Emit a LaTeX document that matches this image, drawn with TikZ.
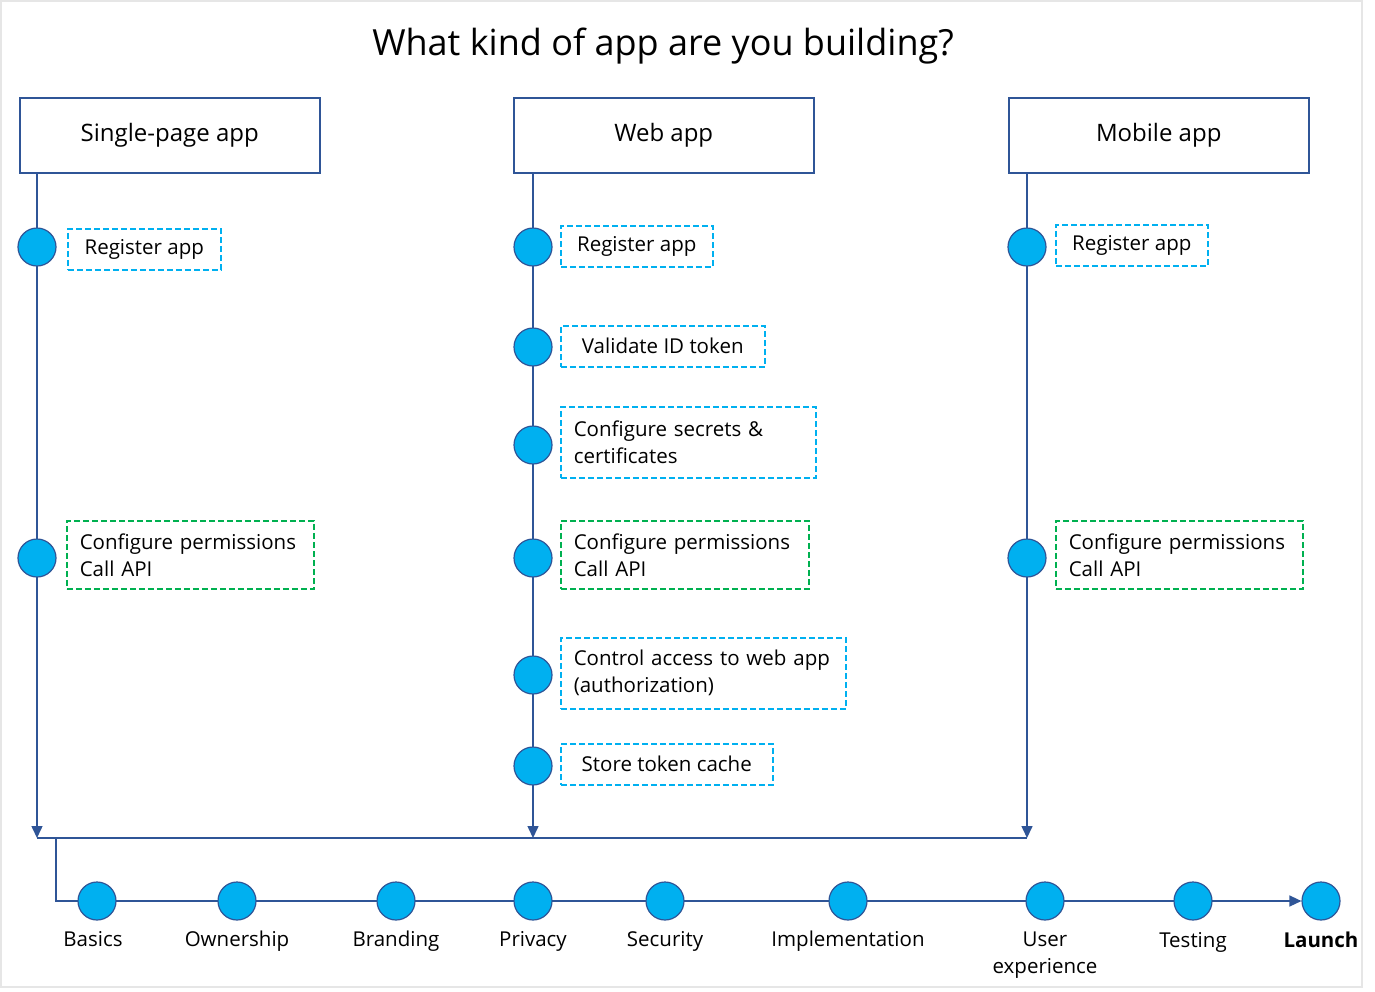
\documentclass[tikz,border=0pt]{standalone}
\usepackage{fontspec}
\setmainfont{Open Sans}
\usetikzlibrary{arrows.meta,positioning,backgrounds}

\definecolor{navyline}{HTML}{2F5597}
\definecolor{dotcyan}{HTML}{00B0F0}
\definecolor{permgreen}{HTML}{00B050}
\definecolor{framegray}{HTML}{E6E6E6}

\newcommand{\boxfont}{\fontsize{20.5}{27}\selectfont}

\tikzset{
  apphead/.style={draw=navyline, line width=1.5pt, minimum width=300pt, minimum height=75pt, anchor=north west, inner sep=0pt, font=\fontsize{24}{28}\selectfont},
  stepdot/.style={circle, fill=dotcyan, draw=navyline, line width=1.2pt, minimum size=38pt, inner sep=0pt},
  notebox/.style={draw=dotcyan, line width=1.5pt, dash pattern=on 6pt off 3pt, minimum height=41pt, anchor=north west, inner xsep=13pt, inner ysep=0pt, font=\boxfont},
  twobox/.style={notebox, minimum height=71pt, text width=#1, align=left},
  permbox/.style={twobox=#1, draw=permgreen, minimum height=68pt},
  flow/.style={draw=navyline, line width=1.5pt},
  flowarrow/.style={flow, -{Triangle[length=12pt,width=11pt]}},
  stagelabel/.style={font=\boxfont, align=center, anchor=base, inner sep=0pt}
}

\begin{document}
\begin{tikzpicture}[x=1pt, y=-1pt]
\useasboundingbox (0,0) rectangle (1375,991);
\draw [framegray, line width=2pt] (1,1) rectangle (1362,987);

% Title
\node (title) at (663,46) {\fontsize{36}{40}\selectfont What kind of app are you building?};

% App types
\node [apphead] (spahead) at (19,97) {Single-page app};
\node [apphead] (webhead) at (513,97) {Web app};
\node [apphead] (mobhead) at (1008,97) {Mobile app};

\coordinate (spatop) at ([xshift=18pt]spahead.south west);
\coordinate (webtop) at ([xshift=20pt]webhead.south west);
\coordinate (mobtop) at ([xshift=19pt]mobhead.south west);
\coordinate (spaend) at (37,838);
\coordinate (webend) at (533,838);
\coordinate (mobend) at (1027,838);
\coordinate (bend) at (56,838);

% Single-page app steps
\node [stepdot] (spa1) at (37,247) {};
\node [stepdot] (spa2) at (37,558) {};
\node [notebox, minimum width=153pt] (spareg) at (67,228) {Register app};
\node [permbox=221pt] (spaperm) at (66,520) {Configure permissions\\Call API};

% Web app steps
\node [stepdot] (web1) at (533,247) {};
\node [stepdot] (web2) at (533,347) {};
\node [stepdot] (web3) at (533,445) {};
\node [stepdot] (web4) at (533,558) {};
\node [stepdot] (web5) at (533,675) {};
\node [stepdot] (web6) at (533,766) {};
\node [notebox, minimum width=152pt] (webreg) at (560,225) {Register app};
\node [notebox, minimum width=204pt] (webtoken) at (560,325) {Validate ID token};
\node [twobox=229pt] (websecret) at (560,406) {Configure secrets \&\\certificates};
\node [permbox=222pt] (webperm) at (560,520) {Configure permissions\\Call API};
\node [twobox=259pt] (webaccess) at (560,637) {Control access to web app\\(authorization)};
\node [notebox, minimum width=212pt] (webcache) at (560,743) {Store token cache};

% Mobile app steps
\node [stepdot] (mob1) at (1027,247) {};
\node [stepdot] (mob2) at (1027,558) {};
\node [notebox, minimum width=152pt] (mobreg) at (1055,224) {Register app};
\node [permbox=221pt] (mobperm) at (1055,520) {Configure permissions\\Call API};

% Release stages
\node [stepdot] (basics) at (97,901) {};
\node [stepdot] (owner) at (237,901) {};
\node [stepdot] (brand) at (396,901) {};
\node [stepdot] (privacy) at (533,901) {};
\node [stepdot] (secure) at (665,901) {};
\node [stepdot] (implement) at (848,901) {};
\node [stepdot] (ux) at (1045,901) {};
\node [stepdot] (testing) at (1193,901) {};
\node [stepdot] (launch) at (1321,901) {};

\node [stagelabel] (basicslbl) at ([xshift=-4pt,yshift=-45pt]basics.center) {Basics};
\node [stagelabel] (ownerlbl) at ([yshift=-45pt]owner.center) {Ownership};
\node [stagelabel] (brandlbl) at ([yshift=-45pt]brand.center) {Branding};
\node [stagelabel] (privacylbl) at ([yshift=-45pt]privacy.center) {Privacy};
\node [stagelabel] (securelbl) at ([yshift=-45pt]secure.center) {Security};
\node [stagelabel] (implementlbl) at ([yshift=-45pt]implement.center) {Implementation};
\node [stagelabel] (uxlbl) at ([yshift=-72pt]ux.center) {User\\experience};
\node [stagelabel] (testinglbl) at ([yshift=-46pt]testing.center) {Testing};
\node [stagelabel] (launchlbl) at ([yshift=-46pt]launch.center) {\bfseries Launch};

% Connectors
\begin{scope}[on background layer]
\draw [flowarrow] (spatop) -- (spaend);
\draw [flowarrow] (webtop) -- (webend);
\draw [flowarrow] (mobtop) -- (mobend);
\draw [flow] (spaend) -- (mobend);
\draw [flowarrow] (bend) |- (launch.west);
\end{scope}
\end{tikzpicture}
\end{document}
